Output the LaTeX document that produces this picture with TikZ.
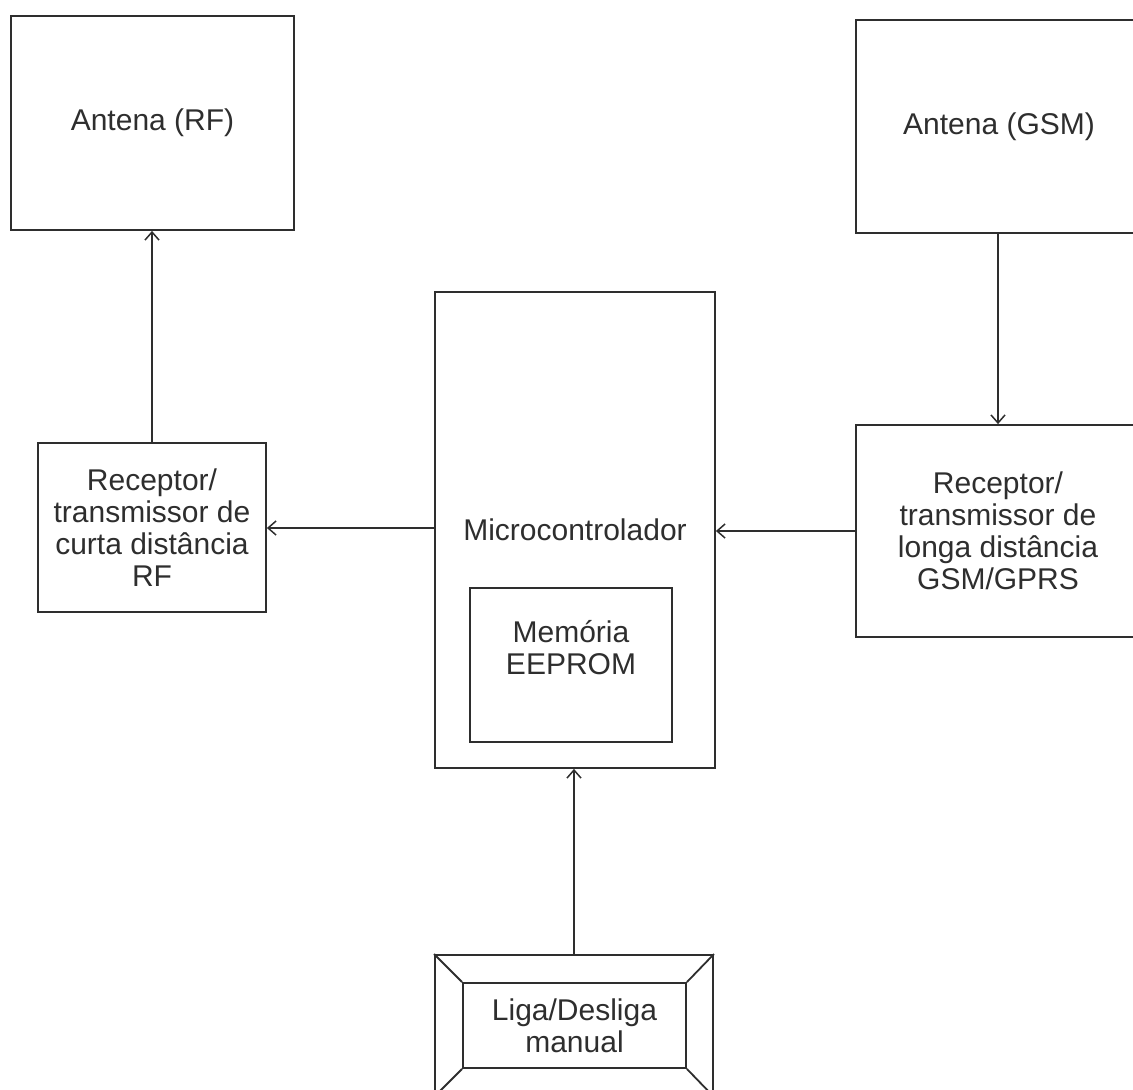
\documentclass[tikz,border=0pt]{standalone}
\usepackage{fontspec}
\setmainfont{Liberation Sans}
\usetikzlibrary{arrows.meta,calc}
\definecolor{ink}{HTML}{2E2E2E}
\begin{document}
\begin{tikzpicture}[x=1pt,y=-1pt,
  every node/.style={font=\fontsize{30}{32}\selectfont, text=ink},
  block/.style={draw=ink, line width=1.8pt, inner sep=0pt, align=center},
  label/.style={align=center, inner sep=0pt},
  link/.style={draw=ink, line width=1.8pt, -{Straight Barb[length=8pt,width=14pt,line width=1.5pt]}},
  bevel/.style={draw=ink, line width=1.8pt}
]
\useasboundingbox (0,0) rectangle (1133,1090);
\begin{scope}
\clip (0,0) rectangle (1133,1090);

% antennas
\node[block, minimum width=283pt, minimum height=214pt] (antRF) at (152.5,123) {Antena (RF)};
\node[block, minimum width=286pt, minimum height=213pt] (antGSM) at (999,126.5) {Antena (GSM)};

% transceivers
\node[block, minimum width=228pt, minimum height=169pt] (recRF) at (152,527.5)
  {Receptor/\\transmissor de\\curta distância\\RF};
\node[block, minimum width=284pt, minimum height=212pt] (recGSM) at (998,531)
  {Receptor/\\transmissor de\\longa distância\\GSM/GPRS};

% microcontroller with its memory
\node[block, minimum width=280pt, minimum height=476pt] (micro) at (575,530) {};
\node[label] (microtxt) at (575,530) {Microcontrolador};
\node[block, minimum width=202pt, minimum height=154pt] (mem) at (571,665) {};
\node[label] (memtxt) at (571,648) {Memória\\EEPROM};

% manual on/off switch (bevelled key)
\node[block, minimum width=278pt, minimum height=141pt] (switch) at (574,1025.5) {};
\node[block, minimum width=223pt, minimum height=85pt] (key) at (574.5,1025.5) {Liga/Desliga\\manual};
\draw[bevel] (switch.north west) -- (key.north west);
\draw[bevel] (switch.north east) -- (key.north east);
\draw[bevel] (switch.south west) -- (key.south west);
\draw[bevel] (switch.south east) -- (key.south east);

% connections
\coordinate (microout) at ($(micro.west)+(0,-2)$);
\draw[link] (recRF.north) -- (recRF.north |- antRF.south);
\draw[link] (antGSM.south -| recGSM.north) -- (recGSM.north);
\draw[link] (microout) -- (microout -| recRF.east);
\draw[link] (recGSM.west) -- (recGSM.west -| micro.east);
\draw[link] (switch.north) -- (switch.north |- micro.south);
\end{scope}
\end{tikzpicture}
\end{document}
